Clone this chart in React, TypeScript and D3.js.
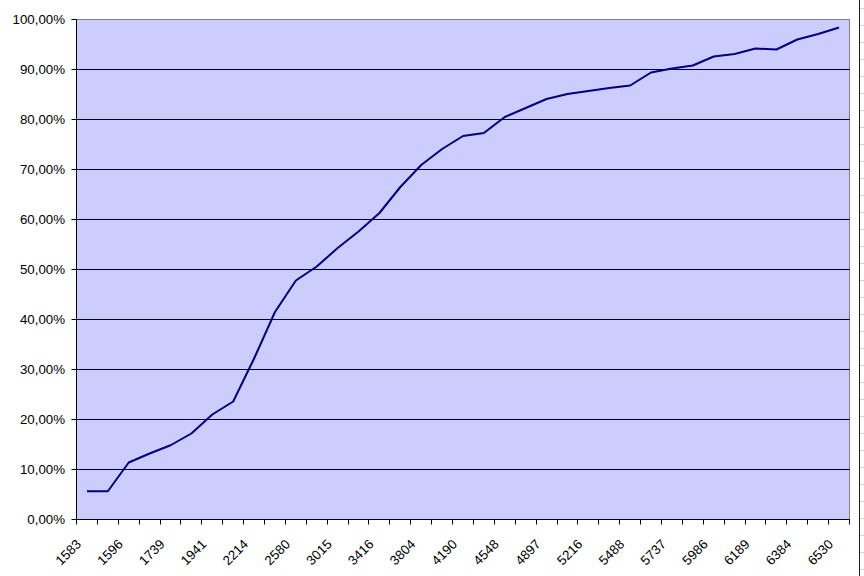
import React from "react";
import * as d3 from "d3";

const categories: string[] = [
  "1583", "1590", "1596", "1660", "1739", "1840", "1941", "2070", "2214", "2390",
  "2580", "2800", "3015", "3210", "3416", "3610", "3804", "4000", "4190", "4370",
  "4548", "4720", "4897", "5060", "5216", "5350", "5488", "5610", "5737", "5860",
  "5986", "6090", "6189", "6290", "6384", "6460", "6530",
];

const values: number[] = [
  0.0565, 0.0565, 0.114, 0.132, 0.1485, 0.172, 0.21, 0.236, 0.322, 0.415,
  0.478, 0.506, 0.543, 0.576, 0.613, 0.665, 0.709, 0.741, 0.767, 0.773,
  0.805, 0.823, 0.841, 0.851, 0.857, 0.863, 0.868, 0.894, 0.902, 0.908,
  0.926, 0.931, 0.942, 0.94, 0.96, 0.971, 0.984,
];

const yTicks: number[] = [0, 0.1, 0.2, 0.3, 0.4, 0.5, 0.6, 0.7, 0.8, 0.9, 1.0];

const W = 864;
const H = 576;
const left = 76.5;
const right = 849.5;
const top = 19.5;
const bottom = 519.5;
const font = "'Liberation Sans', Arial, sans-serif";

const fmt = (v: number) => (v * 100).toFixed(2).replace(".", ",") + "%";

export default function App() {
  const x = d3.scaleBand<string>().domain(categories).range([left, right]).padding(0);
  const y = d3.scaleLinear().domain([0, 1]).range([bottom, top]);
  const step = x.step();
  const line = d3
    .line<number>()
    .x((_, i) => (x(categories[i]) as number) + x.bandwidth() / 2)
    .y((v) => y(v));

  const crisp = (v: number) => Math.round(v - 0.5) + 0.5;
  const tickXs = d3.range(categories.length + 1).map((i) => crisp(left + i * step));
  const sheetRows = d3.range(8, H, 17);

  return (
    <svg
      width={W}
      height={H}
      style={{ position: "fixed", left: 0, top: 0, background: "#fff" }}
      fontFamily={font}
    >
      <rect x={0} y={0} width={W} height={H} fill="#fff" />
      {/* spreadsheet edge on the right */}
      {sheetRows.map((r) => (
        <line key={"sr" + r} x1={860} x2={W} y1={r + 0.5} y2={r + 0.5} stroke="#d4d4d4" />
      ))}
      <line x1={859.5} x2={859.5} y1={0} y2={H} stroke="#202020" />

      {/* plot area */}
      <rect x={left} y={top} width={right - left} height={bottom - top} fill="#CCCCFF" stroke="#808080" />
      {yTicks.filter((t) => t > 0 && t < 1).map((t) => (
        <line key={"g" + t} x1={left} x2={right} y1={crisp(y(t))} y2={crisp(y(t))} stroke="#000" />
      ))}

      {/* y axis */}
      <line x1={left} x2={left} y1={top} y2={bottom} stroke="#000" />
      {yTicks.map((t) => (
        <g key={"y" + t}>
          <line x1={left - 5} x2={left} y1={crisp(y(t))} y2={crisp(y(t))} stroke="#000" />
          <text x={65} y={y(t)} dy="0.36em" textAnchor="end" fontSize={13.3} fill="#000">
            {fmt(t)}
          </text>
        </g>
      ))}

      {/* x axis */}
      <line x1={left} x2={right} y1={bottom} y2={bottom} stroke="#000" />
      {tickXs.map((tx, i) => (
        <line key={"xt" + i} x1={tx} x2={tx} y1={bottom} y2={bottom + 5} stroke="#000" />
      ))}
      {categories.map((c, i) =>
        i % 2 === 0 ? (
          <text
            key={"xl" + c}
            transform={`translate(${(x(c) as number) + x.bandwidth() / 2 - 5},545) rotate(-45)`}
            textAnchor="end"
            fontSize={13.3}
            fill="#000"
          >
            {c}
          </text>
        ) : null
      )}

      {/* series */}
      <path d={line(values) || ""} fill="none" stroke="#000080" strokeWidth={2} strokeLinejoin="round" />
    </svg>
  );
}
